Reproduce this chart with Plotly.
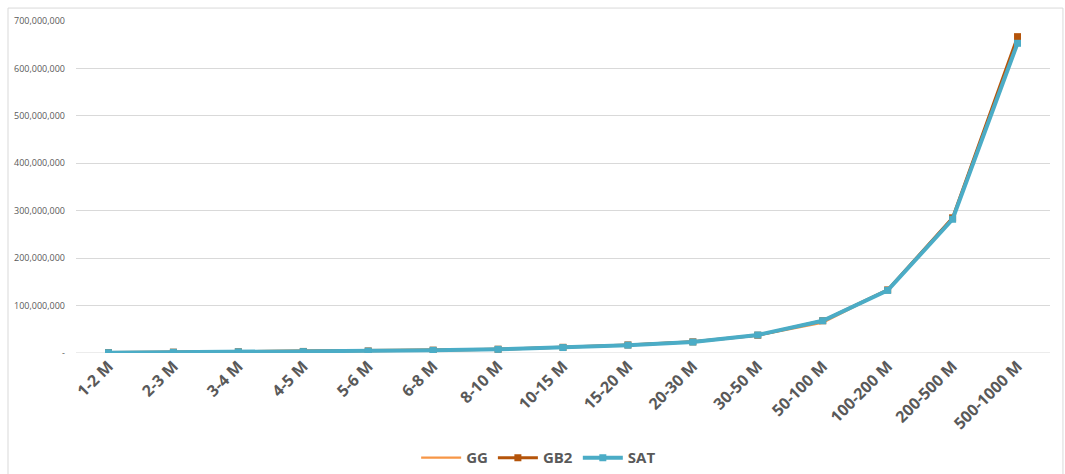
import plotly.graph_objects as go

categories = ["1-2 M", "2-3 M", "3-4 M", "4-5 M", "5-6 M", "6-8 M", "8-10 M", "10-15 M",
              "15-20 M", "20-30 M", "30-50 M", "50-100 M", "100-200 M", "200-500 M", "500-1000 M"]
gg = [1.0e6, 2.0e6, 3.0e6, 4.0e6, 5.0e6, 7.0e6, 8.5e6, 12.0e6, 17.0e6, 24.0e6, 37.0e6, 64.0e6, 133.0e6, 284.0e6, 662.0e6]
gb2 = [0.8e6, 1.8e6, 2.6e6, 3.3e6, 4.3e6, 6.0e6, 8.0e6, 12.0e6, 17.0e6, 23.5e6, 37.5e6, 68.0e6, 133.0e6, 285.0e6, 667.0e6]
sat = [0.7e6, 1.5e6, 2.5e6, 3.0e6, 4.0e6, 5.6e6, 7.7e6, 11.5e6, 16.5e6, 23.0e6, 38.0e6, 68.0e6, 132.0e6, 282.0e6, 653.0e6]

ytick_vals = [0, 100e6, 200e6, 300e6, 400e6, 500e6, 600e6, 700e6]
ytick_text = ["-", "100,000,000", "200,000,000", "300,000,000", "400,000,000",
              "500,000,000", "600,000,000", "700,000,000"]

fig = go.Figure()
fig.add_trace(go.Scatter(x=categories, y=gg, name="GG", mode="lines",
                         line=dict(color="#F79646", width=2.25)))
fig.add_trace(go.Scatter(x=categories, y=gb2, name="GB2", mode="lines+markers",
                         line=dict(color="#B5540A", width=3),
                         marker=dict(symbol="square", size=7, color="#B5540A")))
fig.add_trace(go.Scatter(x=categories, y=sat, name="SAT", mode="lines+markers",
                         line=dict(color="#4BACC6", width=4),
                         marker=dict(symbol="square", size=7, color="#4BACC6")))

fig.update_layout(
    width=1065, height=474,
    margin=dict(l=76, r=15, t=21, b=121, autoexpand=False),
    paper_bgcolor="white", plot_bgcolor="white",
    font=dict(family="Open Sans, Liberation Sans, sans-serif", color="#595959"),
    showlegend=True,
    legend=dict(orientation="h", x=0.475, xanchor="center",
                yref="container", y=0.034, yanchor="middle",
                font=dict(size=15, color="#595959", family="Open Sans, sans-serif", weight="bold"),
                itemwidth=40, tracegroupgap=0),
    xaxis=dict(type="category", tickangle=-45, showgrid=False, zeroline=False,
               showline=False, ticks="", automargin=False,
               tickfont=dict(size=16, color="#595959", weight="bold"),
               range=[-0.5, 14.5]),
    yaxis=dict(range=[0, 700e6], tickvals=ytick_vals, ticktext=ytick_text,
               showgrid=True, gridcolor="#D9D9D9", gridwidth=1, zeroline=False,
               showline=False, ticks="", ticklabelstandoff=10, automargin=False,
               tickfont=dict(size=9, color="#595959")),
    shapes=[dict(type="rect", xref="paper", yref="paper",
                 x0=-0.0698, x1=1.0133, y0=-0.45, y1=1.039,
                 line=dict(color="#D9D9D9", width=1), fillcolor="rgba(0,0,0,0)", layer="below"),
            dict(type="line", xref="paper", yref="y", x0=0, x1=1, y0=0, y1=0,
                 line=dict(color="#D9D9D9", width=1), layer="below")],
)

fig.write_html("out.html")
